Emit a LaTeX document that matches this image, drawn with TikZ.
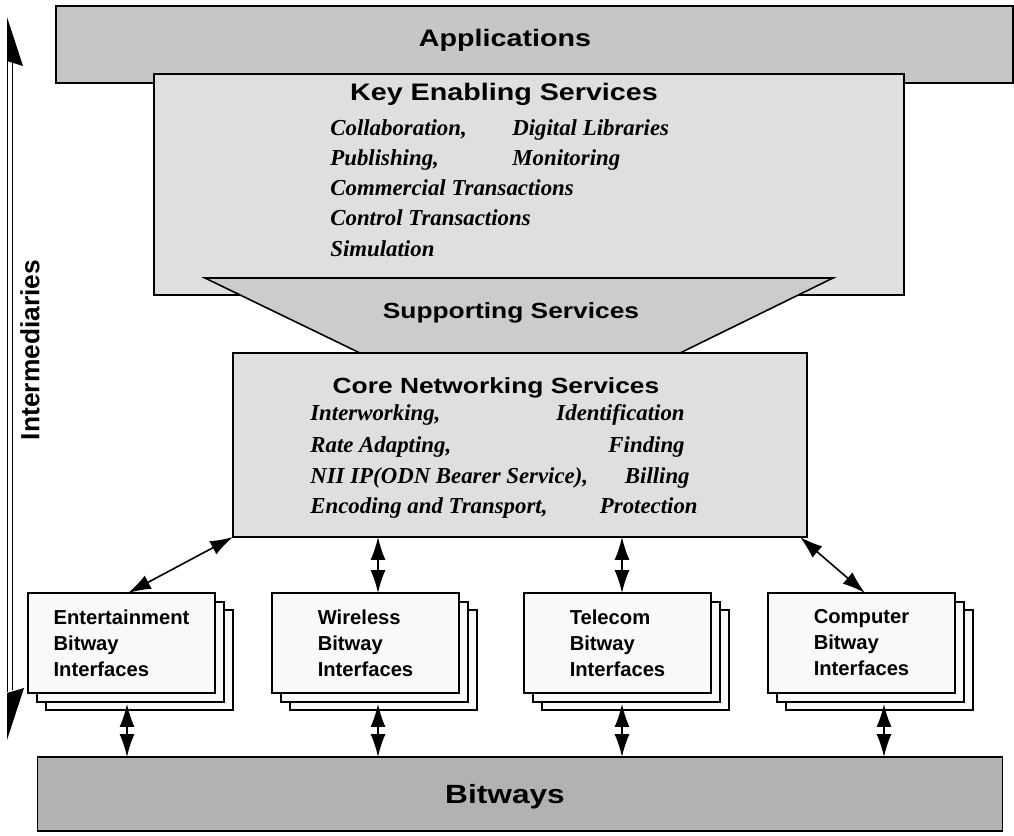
\documentclass[tikz,border=0pt]{standalone}
\usepackage{fontspec}
\usepackage{tikz}
\usetikzlibrary{arrows.meta, positioning}
\newfontfamily\headfont[FakeStretch=1.2]{Liberation Sans}
\newfontfamily\plainfont{Liberation Sans}
\newfontfamily\itemfont{Liberation Serif}

\tikzset{
  layer/.style = {draw, line width=0.9pt, inner sep=0pt, outer sep=0pt},
  iface/.style = {draw, line width=0.8pt, fill=gray!5, inner sep=0pt,
                  minimum width=3.74cm, minimum height=2cm},
  headtxt/.style = {font=\headfont\bfseries\fontsize{12.5}{15}\selectfont, anchor=base, inner sep=0pt},
  bighead/.style = {headtxt, font=\headfont\bfseries\fontsize{13.6}{16}\selectfont},
  itemtxt/.style = {font=\itemfont\bfseries\itshape\fontsize{13}{15}\selectfont, anchor=base west, inner sep=0pt},
  ifacetxt/.style = {font=\plainfont\bfseries\fontsize{11.5}{14.8}\selectfont, align=left},
  biarrow/.style = {{Latex[length=13pt,width=8.5pt]}-{Latex[length=13pt,width=8.5pt]}, line width=0.9pt}
}

\begin{document}
\begin{tikzpicture}[x=0.02cm, y=-0.02cm]
  \useasboundingbox (0,0) rectangle (1014,835);

  % top layers
  \node[layer, fill=gray!45, minimum width=19.14cm, minimum height=1.54cm] (apps) at (534.5,44.5) {};
  \node[bighead] (appsT) at (505,46) {Applications};

  \node[layer, fill=gray!25, minimum width=15cm, minimum height=4.42cm] (key) at (529,184.5) {};
  \node[bighead] (keyT) at (504,100) {Key Enabling Services};
  \node[itemtxt] (k1) at (330,135) {Collaboration,};
  \node[itemtxt] (k2) at (330,165) {Publishing,};
  \node[itemtxt] (k3) at (330,195) {Commercial Transactions};
  \node[itemtxt] (k4) at (330,225) {Control Transactions};
  \node[itemtxt] (k5) at (330,256) {Simulation};
  \node[itemtxt] (k6) at (512,135) {Digital Libraries};
  \node[itemtxt] (k7) at (512,165) {Monitoring};

  % supporting services
  \filldraw[line width=0.9pt, fill=gray!40] (205,278) -- (833,278) -- (680,353) -- (360,353) -- cycle;
  \node[headtxt] (supT) at (511,318) {Supporting Services};

  % core
  \node[layer, fill=gray!25, minimum width=11.48cm, minimum height=3.68cm] (core) at (520,445) {};
  \node[headtxt] (coreT) at (496,393) {Core Networking Services};
  \node[itemtxt] (c1) at (310,420) {Interworking,};
  \node[itemtxt] (c2) at (310,452) {Rate Adapting,};
  \node[itemtxt] (c3) at (310,483) {NII IP(ODN Bearer Service),};
  \node[itemtxt] (c4) at (310,513) {Encoding and Transport,};
  \node[itemtxt, anchor=base east] (c5) at (685,420) {Identification};
  \node[itemtxt, anchor=base east] (c6) at (685,452) {Finding};
  \node[itemtxt, anchor=base east] (c7) at (690,483) {Billing};
  \node[itemtxt, anchor=base east] (c8) at (698,513) {Protection};

  % bitways
  \node[layer, fill=gray!60, minimum width=19.3cm, minimum height=1.48cm] (bits) at (520,794) {};
  \node[headtxt, font=\headfont\bfseries\fontsize{15}{17}\selectfont] (bitsT) at (505,803) {Bitways};

  % bitway interfaces
  \foreach \bx/\ax/\bxo/\name/\txt in {28/128/127/ent/Entertainment, 272/378/378/wir/Wireless,
                                     524/622/622/tel/Telecom, 768/865/884/com/Computer} {
    \node[iface] (\name-b2) at (\bx+111.5,660) {};
    \node[iface] (\name-b1) at (\bx+102.5,652) {};
    \node[iface] (\name) at (\bx+93.5,643) {};
    \node[ifacetxt] (\name-t) at (\name) {\txt\\Bitway\\Interfaces};
    \coordinate (\name-in) at (\ax,593);
    \coordinate (\name-out) at (\bxo,704);
    \draw[biarrow] (\name-out) -- (\name-out |- bits.north);
  }

  % links to core
  \draw[biarrow] (core.south west) -- (ent-in);
  \draw[biarrow] (wir-in |- core.south) -- (wir-in);
  \draw[biarrow] (tel-in |- core.south) -- (tel-in);
  \draw[biarrow] ([xshift=-0.14cm]core.south east) -- (com-in);

  % intermediaries
  \draw[line width=0.6pt] (7.5,60) -- (7.5,692);
  \draw[line width=0.6pt] (12.5,62) -- (12.5,690);
  \fill (7,17) -- (23,66) -- (7,61) -- cycle;
  \fill (7,740) -- (24,688) -- (7,693) -- cycle;
  \node[font=\plainfont\bfseries\fontsize{15}{17}\selectfont, rotate=90] (inter) at (30,350) {Intermediaries};
\end{tikzpicture}
\end{document}
